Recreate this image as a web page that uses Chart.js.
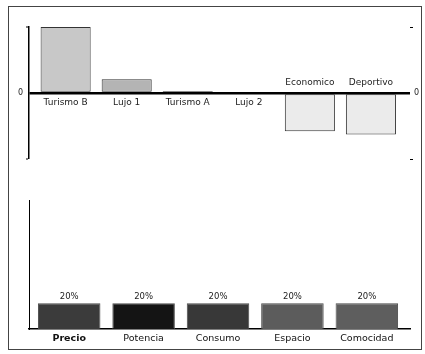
<!DOCTYPE html>
<html>
<head>
<meta charset="utf-8">
<script src="https://cdn.jsdelivr.net/npm/chart.js@4/dist/chart.umd.min.js"></script>
<style>
  body { margin: 0; background: #fff; }
  #frame {
    position: absolute; left: 8px; top: 6px; width: 414px; height: 344px;
    border: 1.5px solid #444; box-sizing: border-box;
  }
  #top { position: absolute; left: 0; top: 0; }
  #bottom { position: absolute; left: 0; top: 180px; }
</style>
</head>
<body>
<div id="frame"></div>
<canvas id="top" width="425" height="180"></canvas>
<canvas id="bottom" width="425" height="174"></canvas>
<script>
// gráfico de arriba: segmentos
const segmentos = ["Turismo B", "Lujo 1", "Turismo A", "Lujo 2", "Economico", "Deportivo"];
const valoresSeg = [1.0, 0.21, 0.03, 0, -0.58, -0.63];
const coloresSeg = ["#c8c8c8", "#b4b4b4", "#c4c4c4", "#c4c4c4", "#ebebeb", "#ebebeb"];
const ticksSeg = [-1, 0, 1];

// gráfico de abajo: atributos
const atributos = ["Precio", "Potencia", "Consumo", "Espacio", "Comocidad"];
const pesos = [20, 20, 20, 20, 20];
const coloresAtr = ["#3b3b3b", "#141414", "#383838", "#5c5c5c", "#5e5e5e"];

const FONT = "'DejaVu Sans', sans-serif";

// etiquetas de categoría junto a la línea del cero
const segLabels = {
  id: "segLabels",
  afterDatasetsDraw(chart) {
    const ctx = chart.ctx;
    const x = chart.scales.x;
    const y = chart.scales.y;
    const y0 = y.getPixelForValue(0);
    ctx.save();
    ctx.font = "9px " + FONT;
    ctx.fillStyle = "#222";
    ctx.textAlign = "center";
    segmentos.forEach((name, i) => {
      const px = x.getPixelForValue(i);
      if (valoresSeg[i] < 0) {
        ctx.textBaseline = "bottom";
        ctx.fillText(name, px, y0 - 6);
      } else {
        ctx.textBaseline = "top";
        ctx.fillText(name, px, y0 + 5);
      }
    });
    ctx.restore();
  },
};

new Chart(document.getElementById("top"), {
  type: "bar",
  data: {
    datasets: [
      {
        data: valoresSeg.map((v, i) => ({ x: i, y: v })),
        backgroundColor: coloresSeg,
        borderColor: "#333",
        borderWidth: 1,
        borderSkipped: false,
        barPercentage: 0.82,
        categoryPercentage: 1,
      },
    ],
  },
  options: {
    responsive: false,
    animation: false,
    layout: { padding: { top: 27, bottom: 21 } },
    plugins: { legend: { display: false }, tooltip: { enabled: false } },
    scales: {
      x: { type: "linear", min: -0.6, max: 5.64, offset: false, display: false },
      y: {
        min: -1,
        max: 1,
        afterBuildTicks: (s) => { s.ticks = ticksSeg.map((v) => ({ value: v })); },
        afterFit: (s) => { s.width = 29; },
        border: { display: true, color: "#000", width: 1.5 },
        grid: {
          color: (c) => (c.tick && c.tick.value === 0 ? "#000" : "rgba(0,0,0,0)"),
          lineWidth: (c) => (c.tick && c.tick.value === 0 ? 2.5 : 0),
          tickColor: (c) => (c.tick && c.tick.value === 0 ? "rgba(0,0,0,0)" : "#000"),
          tickLength: 3,
          tickWidth: 1,
        },
        ticks: {
          padding: 3,
          color: "#222",
          font: { family: FONT, size: 8 },
          callback: (v) => (v === 0 ? "0" : ""),
        },
      },
      y2: {
        position: "right",
        min: -1,
        max: 1,
        afterBuildTicks: (s) => { s.ticks = ticksSeg.map((v) => ({ value: v })); },
        afterFit: (s) => { s.width = 15; },
        border: { display: false },
        grid: {
          drawOnChartArea: false,
          tickColor: (c) => (c.tick && c.tick.value === 0 ? "rgba(0,0,0,0)" : "#000"),
          tickLength: 3,
        },
        ticks: {
          padding: 1,
          color: "#222",
          font: { family: FONT, size: 8 },
          callback: (v) => (v === 0 ? "0" : ""),
        },
      },
    },
  },
  plugins: [segLabels],
});

// porcentajes encima de cada barra
const pctLabels = {
  id: "pctLabels",
  afterDatasetsDraw(chart) {
    const ctx = chart.ctx;
    const meta = chart.getDatasetMeta(0);
    ctx.save();
    ctx.font = "8.5px " + FONT;
    ctx.fillStyle = "#222";
    ctx.textAlign = "center";
    ctx.textBaseline = "bottom";
    meta.data.forEach((bar, i) => {
      ctx.fillText(pesos[i] + "%", bar.x, bar.y - 2);
    });
    ctx.restore();
  },
};

new Chart(document.getElementById("bottom"), {
  type: "bar",
  data: {
    datasets: [
      {
        data: pesos.map((v, i) => ({ x: i, y: v })),
        backgroundColor: coloresAtr,
        borderColor: "#4a4a4a",
        borderWidth: 1,
        borderSkipped: "bottom",
        barPercentage: 0.84,
        categoryPercentage: 1,
      },
    ],
  },
  options: {
    responsive: false,
    animation: false,
    layout: { padding: { top: 20, right: 15, bottom: 0 } },
    plugins: { legend: { display: false }, tooltip: { enabled: false } },
    scales: {
      x: {
        type: "linear",
        min: -0.54,
        max: 4.58,
        offset: false,
        afterBuildTicks: (s) => { s.ticks = atributos.map((_, i) => ({ value: i })); },
        afterFit: (s) => { s.height = 25; },
        border: { display: true, color: "#000", width: 1.5 },
        grid: { display: false, drawTicks: false },
        ticks: {
          padding: 4,
          maxRotation: 0,
          autoSkip: false,
          color: "#111",
          font: (c) => ({
            family: FONT,
            size: 9.5,
            weight: c.tick && c.tick.value === 0 ? "bold" : "normal",
          }),
          callback: (v) => atributos[v],
        },
      },
      y: {
        min: 0,
        max: 100,
        afterFit: (s) => { s.width = 29; },
        border: { display: true, color: "#000", width: 1 },
        grid: { display: false },
        ticks: { display: false },
      },
    },
  },
  plugins: [pctLabels],
});
</script>
</body>
</html>
